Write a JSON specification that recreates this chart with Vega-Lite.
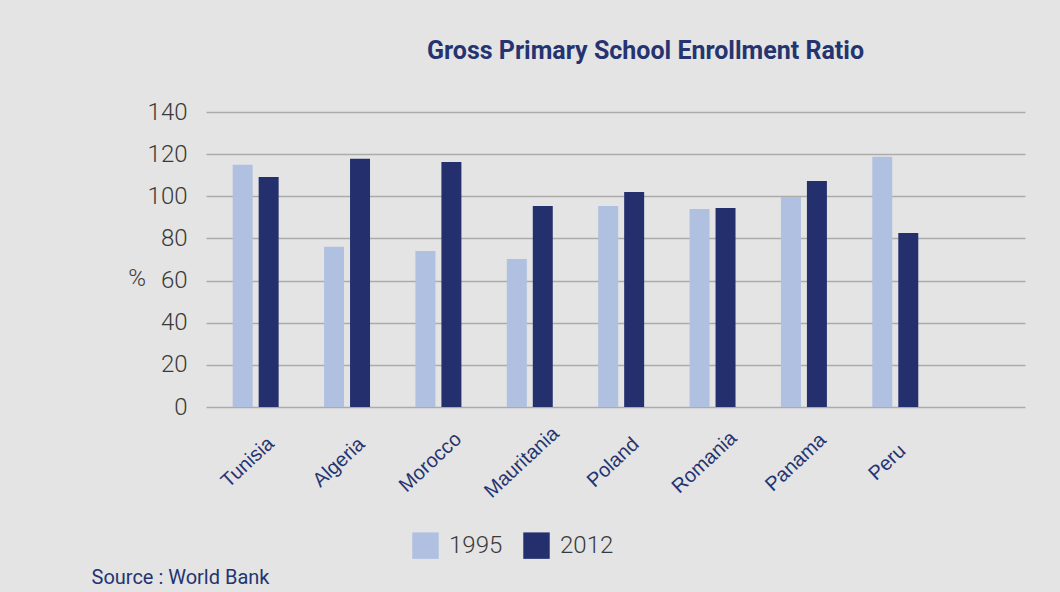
{
  "$schema": "https://vega.github.io/schema/vega-lite/v6.json",
  "width": 819,
  "height": 295,
  "autosize": {"type": "none"},
  "padding": {"left": 206, "top": 112, "right": 35, "bottom": 185},
  "background": "#e4e4e4",
  "title": {
    "text": "Gross Primary School Enrollment Ratio",
    "anchor": "middle",
    "dx": 30,
    "offset": 36,
    "fontSize": 25,
    "fontWeight": "bold",
    "color": "#253470",
    "font": "Roboto"
  },
  "data": {
    "values": [
      {"country": "Tunisia", "year": "1995", "value": 115},
      {"country": "Tunisia", "year": "2012", "value": 109.2},
      {"country": "Algeria", "year": "1995", "value": 76},
      {"country": "Algeria", "year": "2012", "value": 117.8},
      {"country": "Morocco", "year": "1995", "value": 74},
      {"country": "Morocco", "year": "2012", "value": 116.3},
      {"country": "Mauritania", "year": "1995", "value": 70.2},
      {"country": "Mauritania", "year": "2012", "value": 95.4},
      {"country": "Poland", "year": "1995", "value": 95.4},
      {"country": "Poland", "year": "2012", "value": 102},
      {"country": "Romania", "year": "1995", "value": 94},
      {"country": "Romania", "year": "2012", "value": 94.4},
      {"country": "Panama", "year": "1995", "value": 99.7},
      {"country": "Panama", "year": "2012", "value": 107.3},
      {"country": "Peru", "year": "1995", "value": 118.8},
      {"country": "Peru", "year": "2012", "value": 82.6}
    ]
  },
  "mark": {"type": "bar"},
  "encoding": {
    "x": {
      "field": "country",
      "type": "nominal",
      "sort": ["Tunisia", "Algeria", "Morocco", "Mauritania", "Poland", "Romania", "Panama", "Peru"],
      "scale": {"paddingInner": 0.497, "paddingOuter": 0.73, "align": 0.2},
      "axis": {
        "title": "Source : World Bank",
        "titleX": -115,
        "titleY": 176,
        "titleAlign": "left",
        "titleAnchor": "start",
        "titleBaseline": "alphabetic",
        "titleFontSize": 20,
        "titleFontWeight": "normal",
        "titleColor": "#253470",
        "titleFont": "Roboto",
        "labelAngle": -43,
        "labelAlign": "center",
        "labelBaseline": "middle",
        "labelPadding": 55,
        "labelOffset": -8,
        "labelFontSize": 20,
        "labelColor": "#253470",
        "labelFont": "Liberation Sans",
        "domain": false,
        "ticks": false,
        "grid": false
      }
    },
    "xOffset": {
      "field": "year",
      "type": "nominal",
      "scale": {"paddingInner": 0.2308, "paddingOuter": 0}
    },
    "y": {
      "field": "value",
      "type": "quantitative",
      "scale": {"domain": [0, 140], "nice": false},
      "axis": {
        "values": [0, 20, 40, 60, 80, 100, 120, 140],
        "title": "%",
        "titleAngle": 0,
        "titleX": -69.5,
        "titleY": 166,
        "titleAlign": "center",
        "titleBaseline": "middle",
        "titleFontSize": 24,
        "titleFontWeight": 300,
        "titleColor": "#3a3a3a",
        "titleFont": "Roboto",
        "labelFont": "Roboto",
        "labelFontSize": 24,
        "labelFontWeight": 300,
        "labelColor": "#3a3a3a",
        "labelPadding": 19,
        "domain": false,
        "ticks": false,
        "grid": true,
        "gridColor": "#ababab",
        "gridWidth": 1.5
      }
    },
    "color": {
      "field": "year",
      "type": "nominal",
      "scale": {"domain": ["1995", "2012"], "range": ["#b0c0e0", "#24306e"]},
      "legend": {
        "orient": "none",
        "legendX": 206,
        "legendY": 420,
        "direction": "horizontal",
        "title": null,
        "symbolType": "square",
        "symbolSize": 700,
        "symbolStrokeWidth": 0,
        "symbolOpacity": 1,
        "labelFont": "Roboto",
        "labelFontSize": 24,
        "labelFontWeight": 300,
        "labelColor": "#3a3a3a",
        "labelOffset": 10,
        "columnPadding": 20
      }
    }
  },
  "config": {"view": {"stroke": null}, "font": "Roboto"}
}
